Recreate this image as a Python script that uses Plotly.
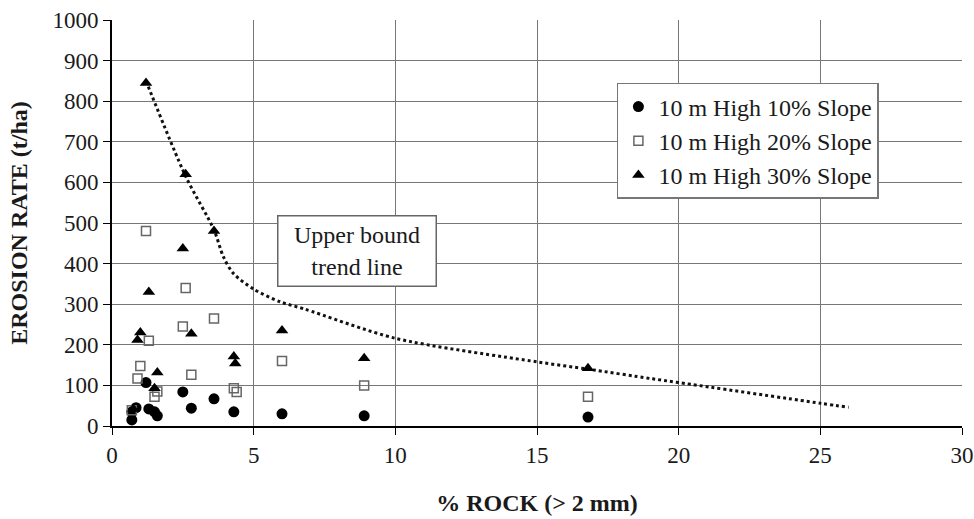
import plotly.graph_objects as go

# Data
rock_10 = [0.7, 0.7, 0.85, 1.2, 1.3, 1.5, 1.6, 2.5, 2.8, 3.6, 4.3, 6.0, 8.9, 16.8]
rate_10 = [15, 35, 45, 107, 42, 35, 25, 84, 44, 67, 35, 30, 25, 22]

rock_20 = [0.7, 0.9, 1.0, 1.2, 1.3, 1.5, 1.6, 2.5, 2.6, 2.8, 3.6, 4.3, 4.4, 6.0, 8.9, 16.8]
rate_20 = [39, 117, 148, 480, 210, 72, 85, 245, 340, 126, 265, 93, 84, 160, 100, 72]

rock_30 = [0.75, 0.9, 1.0, 1.2, 1.3, 1.5, 1.6, 2.5, 2.6, 2.8, 3.6, 4.3, 4.35, 6.0, 8.9, 16.8]
rate_30 = [42, 212, 230, 845, 330, 93, 132, 437, 620, 227, 480, 171, 154, 235, 167, 142]

trend_x = [1.2, 2.6, 3.6, 3.93, 4.28, 5.0, 5.93, 6.8, 10.0, 15.0, 16.8, 19.0, 20.0, 25.0, 26.0]
trend_y = [850, 615, 483, 417, 376, 337, 306, 288, 216, 158, 140, 117, 107, 56, 46]

x_ticks = [0, 5, 10, 15, 20, 25, 30]
y_ticks = [0, 100, 200, 300, 400, 500, 600, 700, 800, 900, 1000]

FONT = "Liberation Serif"
TXT = "#1a1a1a"

fig = go.Figure()
fig.add_trace(go.Scatter(x=trend_x, y=trend_y, mode="lines", showlegend=False,
                         line=dict(color="#111", width=3, dash="dot", shape="spline", smoothing=0.8),
                         hoverinfo="skip"))
fig.add_trace(go.Scatter(x=rock_10, y=rate_10, mode="markers", name="10 m High 10% Slope",
                         marker=dict(symbol="circle", size=11, color="#000")))
fig.add_trace(go.Scatter(x=rock_20, y=rate_20, mode="markers", name="10 m High 20% Slope",
                         marker=dict(symbol="square-open", size=9, color="#666", line=dict(width=1.5))))
fig.add_trace(go.Scatter(x=rock_30, y=rate_30, mode="markers", name="10 m High 30% Slope",
                         marker=dict(symbol="triangle-up", size=11, color="#000")))

fig.add_annotation(x=8.65, y=431, xref="x", yref="y", text="Upper bound<br>trend line",
                   showarrow=False, font=dict(family=FONT, size=24, color=TXT),
                   width=149, height=61,
                   bordercolor="#666", borderwidth=1.5, borderpad=4, bgcolor="white")

fig.update_layout(
    width=974, height=519,
    margin=dict(l=112, r=12, t=20, b=93),
    plot_bgcolor="white", paper_bgcolor="white",
    font=dict(family=FONT, size=23, color=TXT),
    legend=dict(x=0.594, y=0.845, xanchor="left", yanchor="top",
                bordercolor="#777", borderwidth=1.5, bgcolor="white",
                font=dict(family=FONT, size=24, color=TXT)),
    xaxis=dict(range=[0, 30], tickvals=x_ticks, showgrid=True, gridcolor="#777", gridwidth=1,
               showline=True, linecolor="#000", linewidth=2, ticks="outside", ticklen=7,
               tickcolor="#000", zeroline=False, tickfont=dict(size=23), automargin=False,
               title=dict(text="<b>% ROCK (> 2 mm)</b>", font=dict(family=FONT, size=24, color=TXT), standoff=28)),
    yaxis=dict(range=[0, 1000], tickvals=y_ticks, showgrid=True, gridcolor="#777", gridwidth=1,
               showline=True, linecolor="#000", linewidth=2, ticks="outside", ticklen=7,
               tickcolor="#000", zeroline=False, tickfont=dict(size=23), automargin=False,
               title=dict(text="<b>EROSION RATE (t/ha)</b>", font=dict(family=FONT, size=24, color=TXT), standoff=18)),
)

fig.write_html("out.html", config={"displayModeBar": False},
               post_script="document.body.style.margin='0';document.body.style.overflow='hidden';")
